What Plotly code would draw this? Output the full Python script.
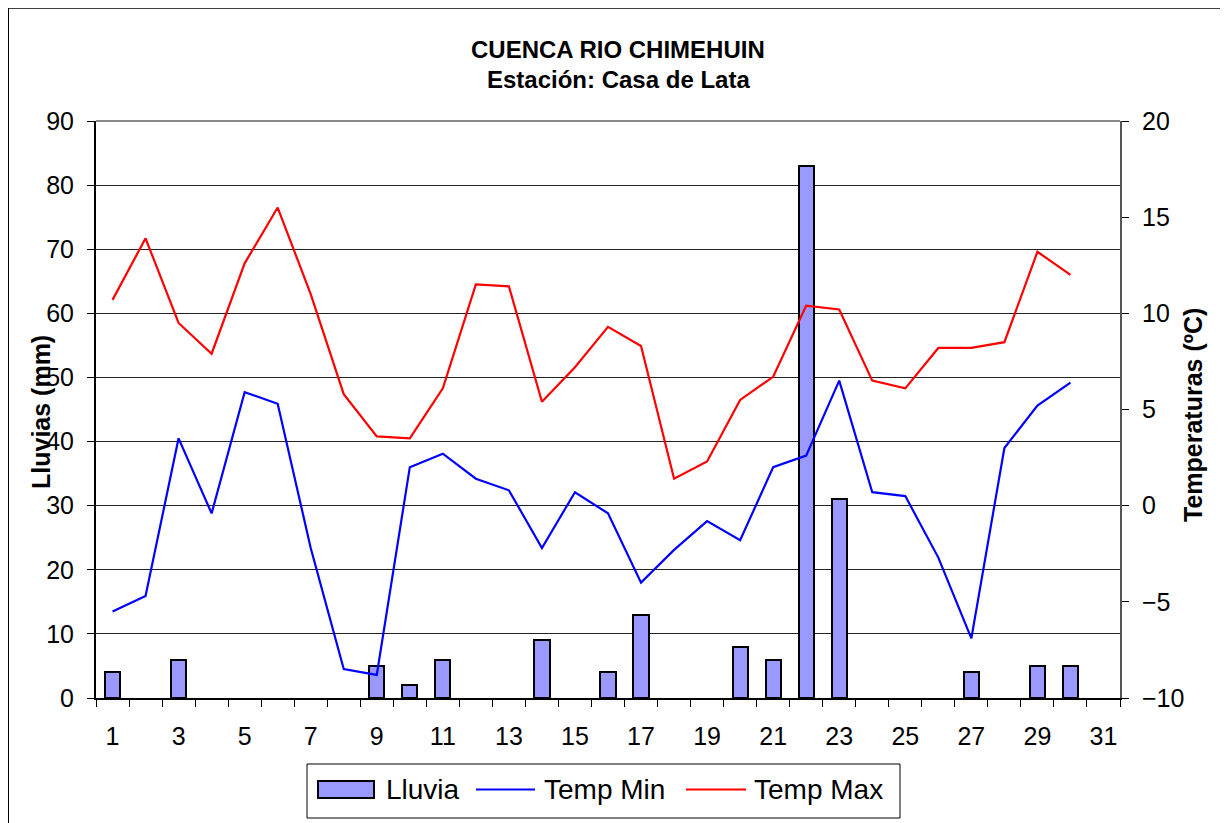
import plotly.graph_objects as go

days = list(range(1, 32))
lluvia = [4, 0, 6, 0, 0, 0, 0, 0, 5, 2, 6, 0, 0, 9, 0, 4, 13, 0, 0, 8, 6, 83, 31, 0, 0, 0, 4, 0, 5, 5, None]
temp_min = [-5.5, -4.7, 3.5, -0.4, 5.9, 5.3, -2.2, -8.5, -8.8, 2.0, 2.7, 1.4, 0.8, -2.2, 0.7,
            -0.4, -4.0, -2.3, -0.8, -1.8, 2.0, 2.6, 6.5, 0.7, 0.5, -2.7, -6.9, 3.0, 5.2, 6.4, None]
temp_max = [10.7, 13.9, 9.5, 7.9, 12.6, 15.5, 11.0, 5.8, 3.6, 3.5, 6.1, 11.5, 11.4, 5.4, 7.2,
            9.3, 8.3, 1.4, 2.3, 5.5, 6.7, 10.4, 10.2, 6.5, 6.1, 8.2, 8.2, 8.5, 13.2, 12.0, None]
x_tick_labels = [str(d) for d in range(1, 32, 2)]

FONT = "Liberation Sans, Arial, sans-serif"
BAR_COLOR = "#9999FF"

# page has an 8px body margin; figure sized so it ends at the window edge
OFF = 8
W, H = 1228 - OFF, 823 - OFF
# plot area in reference (page) pixel coords
L, R, T, B = 96, 1120, 121, 698

fig = go.Figure()
fig.add_trace(go.Bar(
    x=days, y=[v if v else None for v in lluvia], name="Lluvia", width=0.46,
    marker=dict(color=BAR_COLOR, line=dict(color="#000000", width=2)),
    yaxis="y",
))
fig.add_trace(go.Scatter(
    x=days, y=temp_min, name="Temp Min", mode="lines",
    line=dict(color="#0000FF", width=2.2), yaxis="y2",
))
fig.add_trace(go.Scatter(
    x=days, y=temp_max, name="Temp Max", mode="lines",
    line=dict(color="#FF0000", width=2.2), yaxis="y2",
))


def px_x(x):
    return (x - L) / (R - L)


def px_y(y):
    return (B - y) / (B - T)


legend_y = 789.5
shapes = [
    # outer chart border (left and top edges visible)
    dict(type="line", xref="paper", yref="paper", x0=px_x(OFF), x1=px_x(OFF),
         y0=px_y(OFF), y1=px_y(900), line=dict(color="black", width=2)),
    dict(type="line", xref="paper", yref="paper", x0=px_x(OFF), x1=px_x(1300),
         y0=px_y(OFF), y1=px_y(OFF), line=dict(color="black", width=1.5)),
    # plot area top border
    dict(type="line", xref="paper", yref="paper", x0=0, x1=1,
         y0=1, y1=1, line=dict(color="#888888", width=2)),
    # legend box
    dict(type="rect", xref="paper", yref="paper", x0=px_x(307), x1=px_x(900),
         y0=px_y(764), y1=px_y(818), line=dict(color="black", width=1), fillcolor="white"),
    dict(type="rect", xref="paper", yref="paper", x0=px_x(318), x1=px_x(374),
         y0=px_y(781), y1=px_y(798), line=dict(color="black", width=2), fillcolor=BAR_COLOR),
    dict(type="line", xref="paper", yref="paper", x0=px_x(476), x1=px_x(535),
         y0=px_y(legend_y), y1=px_y(legend_y), line=dict(color="#0000FF", width=2)),
    dict(type="line", xref="paper", yref="paper", x0=px_x(686), x1=px_x(746),
         y0=px_y(legend_y), y1=px_y(legend_y), line=dict(color="#FF0000", width=2)),
]

annotations = [
    dict(text="<b>CUENCA RIO CHIMEHUIN</b>", xref="paper", yref="paper",
         x=px_x(618), y=px_y(50), xanchor="center", yanchor="middle",
         showarrow=False, font=dict(size=24, family=FONT)),
    dict(text="<b>Estación: Casa de Lata</b>", xref="paper", yref="paper",
         x=px_x(618), y=px_y(80), xanchor="center", yanchor="middle",
         showarrow=False, font=dict(size=24, family=FONT)),
    dict(text="<b>Lluvias (mm)</b>", xref="paper", yref="paper",
         x=px_x(41), y=px_y(412), xanchor="center", yanchor="middle",
         textangle=-90, showarrow=False, font=dict(size=25, family=FONT)),
    dict(text="<b>Temperaturas (ºC)</b>", xref="paper", yref="paper",
         x=px_x(1193), y=px_y(415), xanchor="center", yanchor="middle",
         textangle=-90, showarrow=False, font=dict(size=25, family=FONT)),
]
for label, x0 in [("Lluvia", 384), ("Temp Min", 542), ("Temp Max", 752)]:
    annotations.append(dict(
        text=label, xref="paper", yref="paper", x=px_x(x0), y=px_y(legend_y),
        xanchor="left", yanchor="middle", showarrow=False,
        font=dict(size=28, family=FONT),
    ))

fig.update_layout(
    width=W, height=H,
    margin=dict(l=L - OFF, r=W - (R - OFF), t=T - OFF, b=H - (B - OFF), pad=0),
    paper_bgcolor="white", plot_bgcolor="white",
    font=dict(family=FONT, color="black", size=25),
    showlegend=False,
    bargap=0,
    xaxis=dict(
        range=[0.5, 31.5], tickmode="array",
        tickvals=list(range(1, 32, 2)), ticktext=x_tick_labels,
        ticks="", showgrid=False, zeroline=False,
        showline=True, linecolor="black", linewidth=2,
        tickfont=dict(size=25, family=FONT), ticklabelstandoff=15,
        minor=dict(ticks="outside", tick0=0.5, dtick=1, ticklen=7,
                   tickcolor="black", tickwidth=1, showgrid=False),
    ),
    yaxis=dict(
        range=[0, 90], dtick=10, tick0=0,
        showgrid=True, gridcolor="#222222", gridwidth=1,
        zeroline=False, showline=True, linecolor="black", linewidth=2,
        ticks="outside", ticklen=7, tickcolor="black",
        tickfont=dict(size=25, family=FONT), ticklabelstandoff=8,
    ),
    yaxis2=dict(
        range=[-10, 20], dtick=5, tick0=-10, overlaying="y", side="right",
        showgrid=False, zeroline=False, showline=True, linecolor="#555555", linewidth=2,
        ticks="outside", ticklen=7, tickcolor="black",
        tickfont=dict(size=25, family=FONT), ticklabelstandoff=8,
    ),
    shapes=shapes,
    annotations=annotations,
)

fig.write_html("out.html")
